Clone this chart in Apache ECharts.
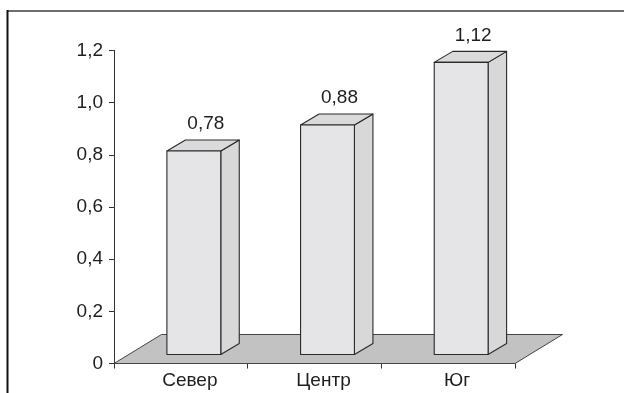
<!DOCTYPE html>
<html>
<head>
<meta charset="utf-8">
<script src="https://cdn.jsdelivr.net/npm/echarts@6/dist/echarts.min.js"></script>
<style>
  html, body { margin: 0; padding: 0; background: #fff; }
  #chart { width: 624px; height: 393px; }
</style>
</head>
<body>
<div id="chart"></div>
<script>
// Regions and their values
const categories = ['Север', 'Центр', 'Юг'];
const values = [0.78, 0.88, 1.12];
const yTicks = [0, 0.2, 0.4, 0.6, 0.8, 1.0, 1.2];

const FONT = "'Liberation Sans', Arial, sans-serif";
const INK = '#333';

// 3D look: depth of the floor plane and where the boxes sit on it
const FLOOR_DX = 47.5, FLOOR_DY = -29;
const BOX_SHIFT_X = 13, BOX_SHIFT_Y = -9;
const BOX_DX = 18.5, BOX_DY = -11;
const BOX_WIDTH_RATIO = 0.403;

const fmtTick = v => (v === 0 ? '0' : v.toFixed(1).replace('.', ','));
const fmtValue = v => v.toFixed(2).replace('.', ',');

const chart = echarts.init(document.getElementById('chart'), null, { renderer: 'canvas' });

function renderFloor(params, api) {
  const bw = api.size([1, 0])[0];
  const first = api.coord([0, 0]);
  const last = api.coord([categories.length - 1, 0]);
  const x0 = first[0] - bw / 2, x1 = last[0] + bw / 2, y0 = first[1];
  return {
    type: 'polygon',
    shape: { points: [[x0, y0], [x1, y0], [x1 + FLOOR_DX, y0 + FLOOR_DY], [x0 + FLOOR_DX, y0 + FLOOR_DY]] },
    style: { fill: '#c2c2c2', stroke: '#444', lineWidth: 1 },
    silent: true
  };
}

function renderBox(params, api) {
  const i = api.value(0), v = api.value(1);
  const bw = api.size([1, 0])[0] * BOX_WIDTH_RATIO;
  const top = api.coord([i, v]);
  const base = api.coord([i, 0]);
  const cx = top[0] + BOX_SHIFT_X;
  const xl = cx - bw / 2, xr = cx + bw / 2;
  const yt = top[1] + BOX_SHIFT_Y, yb = base[1] + BOX_SHIFT_Y;
  const edge = { stroke: '#2a2a2a', lineWidth: 1.1, lineJoin: 'round' };
  return {
    type: 'group',
    children: [
      {
        type: 'polygon',
        shape: { points: [[xr, yb], [xr + BOX_DX, yb + BOX_DY], [xr + BOX_DX, yt + BOX_DY], [xr, yt]] },
        style: Object.assign({ fill: '#d8d8d8' }, edge)
      },
      {
        type: 'polygon',
        shape: { points: [[xl, yt], [xr, yt], [xr + BOX_DX, yt + BOX_DY], [xl + BOX_DX, yt + BOX_DY]] },
        style: Object.assign({ fill: '#dadada' }, edge)
      },
      {
        type: 'rect',
        shape: { x: xl, y: yt, width: bw, height: yb - yt },
        style: Object.assign({ fill: '#e5e5e7' }, edge)
      },
      {
        type: 'text',
        style: {
          text: fmtValue(v),
          x: cx + 12, y: yt - 27,
          align: 'center', verticalAlign: 'middle',
          font: '19px ' + FONT, fill: '#1e1e1e'
        }
      }
    ]
  };
}

chart.setOption({
  animation: false,
  backgroundColor: '#fff',
  grid: { left: 114, right: 109, top: 50.5, bottom: 29.5, containLabel: false },
  xAxis: {
    type: 'category',
    data: categories,
    boundaryGap: true,
    axisLine: { show: true, lineStyle: { color: INK, width: 1 } },
    axisTick: { show: true, alignWithLabel: false, length: 5, lineStyle: { color: INK } },
    axisLabel: { color: '#1e1e1e', fontFamily: FONT, fontSize: 19, margin: 8, padding: [0, 0, 0, 18] },
    splitLine: { show: false }
  },
  yAxis: {
    type: 'value',
    min: 0, max: 1.2, interval: 0.2,
    axisLine: { show: true, lineStyle: { color: INK, width: 1 } },
    axisTick: { show: true, inside: false, length: 5, lineStyle: { color: INK } },
    axisLabel: { color: '#1e1e1e', fontFamily: FONT, fontSize: 19, margin: 11, formatter: fmtTick },
    splitLine: { show: false }
  },
  series: [
    {
      type: 'custom',
      name: 'floor',
      renderItem: renderFloor,
      data: [[0, 0]],
      z: 1,
      silent: true
    },
    {
      type: 'custom',
      name: 'values',
      renderItem: renderBox,
      data: values.map((v, i) => [i, v]),
      z: 3,
      silent: true
    }
  ],
  graphic: [
    { type: 'line', shape: { x1: 7, y1: 11, x2: 624, y2: 11 }, style: { stroke: '#6e6e6e', lineWidth: 2 }, silent: true },
    { type: 'line', shape: { x1: 7.5, y1: 10, x2: 7.5, y2: 393 }, style: { stroke: '#111', lineWidth: 2 }, silent: true }
  ]
});
</script>
</body>
</html>
